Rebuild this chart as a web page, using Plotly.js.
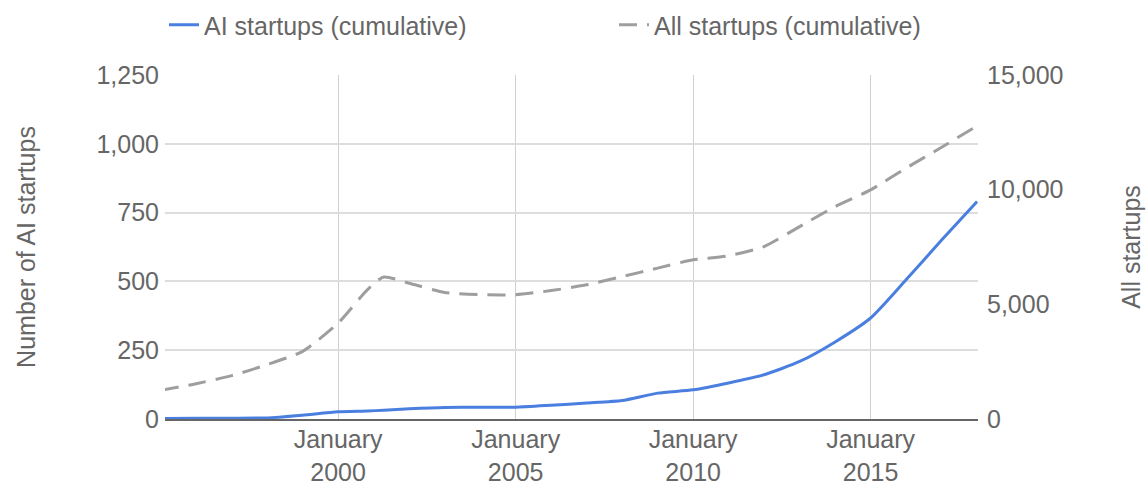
<!DOCTYPE html>
<html>
<head>
<meta charset="utf-8">
<script src="https://cdn.plot.ly/plotly-3.0.1.min.js"></script>
<style>html,body{margin:0;padding:0;background:#fff;}#chart{width:1148px;height:488px;}</style>
</head>
<body>
<div id="chart"></div>
<script>
const dates = ['1995-01-01','1996-01-01','1997-01-01','1998-01-01','1999-01-01','2000-01-01','2000-11-01','2001-04-15','2002-01-01','2003-01-01','2004-01-01','2005-01-01','2006-01-01','2007-01-01','2008-01-01','2009-01-01','2010-01-01','2011-01-01','2012-01-01','2013-01-01','2014-01-01','2015-01-01','2016-01-01','2017-01-01','2018-01-01'];
const aiStartups = [2,3,3,4,14,26,29,32,37,42,43,43,50,58,67,94,106,131,161,209,280,367,506,650,790];
const allStartups = [1250,1540,1890,2370,2950,4180,5650,6190,5920,5520,5420,5420,5600,5850,6210,6580,6940,7120,7520,8390,9260,9990,10940,11850,12780];
const seriesNames = ['AI startups (cumulative)','All startups (cumulative)'];
const leftTitle = 'Number of AI startups';
const rightTitle = 'All startups';

const font = {family:'"Liberation Sans", Arial, sans-serif', size:25, color:'#666666'};

const traces = [
  {x:dates, y:aiStartups, name:seriesNames[0], type:'scatter', mode:'lines', legend:'legend',
   line:{color:'#4a7fe0', width:3, shape:'spline', smoothing:0.6}, yaxis:'y'},
  {x:dates, y:allStartups, name:seriesNames[1], type:'scatter', mode:'lines', legend:'legend2',
   line:{color:'#9e9e9e', width:3, dash:'18px,10px', shape:'spline', smoothing:0.6}, yaxis:'y2'}
];

const legendBase = {orientation:'h', xref:'container', yref:'container', xanchor:'left',
          y:1-25/488, yanchor:'middle', font:font, itemwidth:30, bgcolor:'rgba(0,0,0,0)'};

const layout = {
  width:1148, height:488,
  margin:{l:165, r:170, t:75, b:69, autoexpand:false},
  paper_bgcolor:'#ffffff', plot_bgcolor:'#ffffff',
  font:font,
  showlegend:true,
  legend:Object.assign({}, legendBase, {x:164/1148}),
  legend2:Object.assign({}, legendBase, {x:614/1148}),
  xaxis:{type:'date', range:['1995-02-15','2018-01-10'], tick0:'2000-01-01', dtick:'M60',
         tickformat:'%B<br>%Y', showgrid:true, gridcolor:'#d0d0d0', gridwidth:1,
         showline:true, linecolor:'#666666', linewidth:2, ticks:'', zeroline:false,
         tickfont:font, ticklabelstandoff:-3},
  yaxis:{range:[0,1250], dtick:250, tickformat:',d', showgrid:true, gridcolor:'#dddddd', gridwidth:2,
         zeroline:false, ticks:'', tickfont:font, ticklabelstandoff:5,
         title:{text:leftTitle, font:font, standoff:53}},
  yaxis2:{range:[0,15000], dtick:5000, tickformat:',d', overlaying:'y', side:'right',
          showgrid:false, zeroline:false, ticks:'', tickfont:font, ticklabelstandoff:8,
          title:{text:rightTitle, font:font, standoff:60}}
};

Plotly.newPlot('chart', traces, layout, {displayModeBar:false, staticPlot:true});
</script>
</body>
</html>
